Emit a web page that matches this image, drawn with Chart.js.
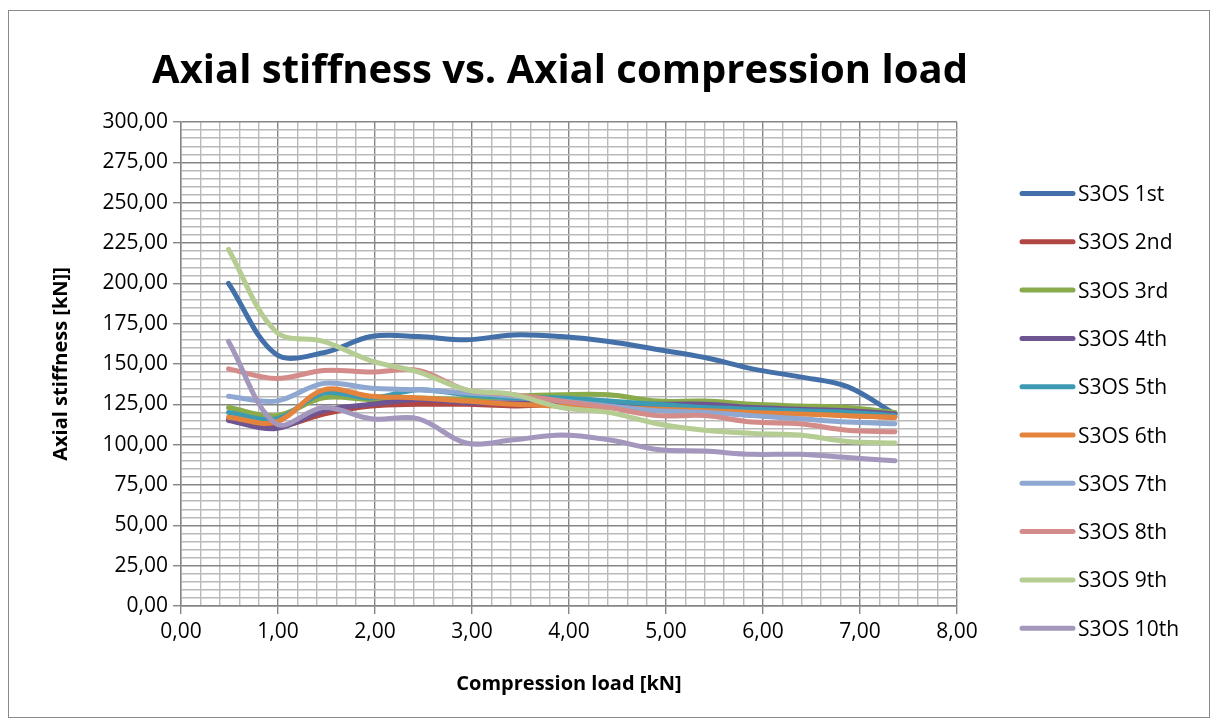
<!DOCTYPE html>
<html>
<head>
<meta charset="utf-8">
<script src="https://cdn.jsdelivr.net/npm/chart.js@4.4.1/dist/chart.umd.min.js"></script>
<style>
  html, body { margin: 0; padding: 0; background: #ffffff; }
  #wrap { width: 1212px; height: 722px; }
</style>
</head>
<body>
<div id="wrap"><canvas id="chart" width="1212" height="722"></canvas></div>
<script>
// Compression load steps [kN]
const loads = [0.49, 0.98, 1.47, 1.96, 2.45, 2.94, 3.43, 3.92, 4.41, 4.91, 5.40, 5.89, 6.38, 6.87, 7.36];

// Axial stiffness [kN] per loading cycle
const s3os1st  = [200, 156, 157, 167, 167, 165, 168, 167, 164, 159, 154, 147, 142, 136, 119];
const s3os2nd  = [116, 111, 119, 124, 125, 125, 124, 125, 124, 124, 123, 121, 120, 118, 117];
const s3os3rd  = [123, 118, 129, 128, 129, 128, 130, 131, 131, 127, 127, 125, 124, 123, 120];
const s3os4th  = [115, 110, 121, 125, 128, 126, 126, 126, 125, 125, 125, 123, 122, 121, 119];
const s3os5th  = [120, 116, 132, 129, 134, 131, 129, 129, 127, 125, 123, 122, 121, 120, 118];
const s3os6th  = [117, 114, 134, 130, 129, 127, 125, 124, 123, 122, 121, 120, 119, 118, 117];
const s3os7th  = [130, 127, 138, 135, 134, 132, 130, 127, 124, 121, 120, 118, 116, 114, 113];
const s3os8th  = [147, 141, 146, 145, 146, 134, 131, 127, 123, 118, 118, 114, 113, 109, 108];
const s3os9th  = [221, 170, 164, 152, 145, 134, 131, 123, 120, 113, 109, 107, 106, 102, 101];
const s3os10th = [164, 113, 123, 116, 116, 101, 103, 106, 103,  97,  96,  94,  94,  92,  90];

const seriesNames = ['S3OS 1st', 'S3OS 2nd', 'S3OS 3rd', 'S3OS 4th', 'S3OS 5th',
                     'S3OS 6th', 'S3OS 7th', 'S3OS 8th', 'S3OS 9th', 'S3OS 10th'];
const seriesValues = [s3os1st, s3os2nd, s3os3rd, s3os4th, s3os5th,
                      s3os6th, s3os7th, s3os8th, s3os9th, s3os10th];
const seriesColors = ['#4470a9', '#b14643', '#8aab4b', '#6e5592', '#3d9ab3',
                      '#e4833c', '#8ea8d2', '#d48c8a', '#b5cc92', '#a497be'];

const chartTitle = 'Axial stiffness vs. Axial compression load';
const xTitle = 'Compression load [kN]';
const yTitle = 'Axial stiffness [kN]]';

const FONT = "'Open Sans', 'Noto Sans', sans-serif";
const MAJOR_GRID = '#868686';
const MINOR_GRID = '#bababa';

const fmt = v => v.toFixed(2).replace('.', ',');
const isMajor = (v, step) => Math.abs(v / step - Math.round(v / step)) < 1e-6;

const datasets = seriesValues.map((vals, i) => ({
  label: seriesNames[i],
  data: vals.map((v, j) => ({ x: loads[j], y: v })),
  borderColor: seriesColors[i],
  backgroundColor: seriesColors[i],
  borderWidth: 5,
  borderCapStyle: 'round',
  borderJoinStyle: 'round',
  pointRadius: 0,
  pointHoverRadius: 0,
  tension: 0.35,
  fill: false,
  order: seriesValues.length - i   // later cycles are drawn on top
}));

// Frame, title, axis titles and legend
const decor = {
  id: 'decor',
  afterDraw(chart) {
    const ctx = chart.ctx;
    const area = chart.chartArea;
    ctx.save();

    // outer frame
    ctx.strokeStyle = '#8a8a8a';
    ctx.lineWidth = 1;
    ctx.strokeRect(8.5, 10.5, 1201, 707);

    // chart title
    ctx.fillStyle = '#000000';
    ctx.font = `bold 40px ${FONT}`;
    ctx.textAlign = 'center';
    ctx.textBaseline = 'alphabetic';
    ctx.fillText(chartTitle, 560, 83);

    // x axis title
    ctx.font = `bold 20px ${FONT}`;
    ctx.fillText(xTitle, (area.left + area.right) / 2, 690);

    // y axis title
    ctx.save();
    ctx.translate(67, (area.top + area.bottom) / 2);
    ctx.rotate(-Math.PI / 2);
    ctx.fillText(yTitle, 0, 0);
    ctx.restore();

    // legend
    ctx.font = `21px ${FONT}`;
    ctx.textAlign = 'left';
    chart.data.datasets.forEach((ds, i) => {
      const cy = 193.5 + i * 48.3;
      ctx.strokeStyle = ds.borderColor;
      ctx.lineWidth = 5;
      ctx.lineCap = 'round';
      ctx.beginPath();
      ctx.moveTo(1022, cy);
      ctx.lineTo(1073, cy);
      ctx.stroke();
      ctx.fillStyle = '#000000';
      ctx.fillText(ds.label, 1078, cy + 7.5);
    });
    ctx.restore();
  }
};

new Chart(document.getElementById('chart'), {
  type: 'line',
  data: { datasets },
  plugins: [decor],
  options: {
    responsive: false,
    animation: false,
    devicePixelRatio: 1,
    layout: { padding: { left: 0, top: 122, right: 255, bottom: 0 } },
    plugins: {
      legend: { display: false },
      title: { display: false },
      tooltip: { enabled: false }
    },
    scales: {
      x: {
        type: 'linear',
        min: 0,
        max: 8,
        afterFit: s => { s.height = 116; },
        ticks: {
          stepSize: 0.2,
          autoSkip: false,
          maxRotation: 0,
          minRotation: 0,
          padding: 5,
          color: '#000000',
          font: { family: FONT, size: 21 },
          callback: v => isMajor(v, 1) ? fmt(v) : ''
        },
        grid: {
          drawTicks: true,
          tickLength: 8,
          lineWidth: c => isMajor(c.tick.value, 1) ? 1.4 : 1.4,
          color: c => isMajor(c.tick.value, 1) ? MAJOR_GRID : MINOR_GRID,
          tickColor: c => isMajor(c.tick.value, 1) ? MAJOR_GRID : 'rgba(0,0,0,0)'
        },
        border: { display: true, color: MAJOR_GRID, width: 1.4 }
      },
      y: {
        type: 'linear',
        min: 0,
        max: 300,
        afterFit: s => { s.width = 181; },
        ticks: {
          stepSize: 5,
          autoSkip: false,
          padding: 5,
          color: '#000000',
          font: { family: FONT, size: 21 },
          callback: v => isMajor(v, 25) ? fmt(v) : ''
        },
        grid: {
          drawTicks: true,
          tickLength: 8,
          lineWidth: c => isMajor(c.tick.value, 25) ? 1.4 : 1.4,
          color: c => isMajor(c.tick.value, 25) ? MAJOR_GRID : MINOR_GRID,
          tickColor: c => isMajor(c.tick.value, 25) ? MAJOR_GRID : 'rgba(0,0,0,0)'
        },
        border: { display: true, color: MAJOR_GRID, width: 1.4 }
      }
    }
  }
});
</script>
</body>
</html>
